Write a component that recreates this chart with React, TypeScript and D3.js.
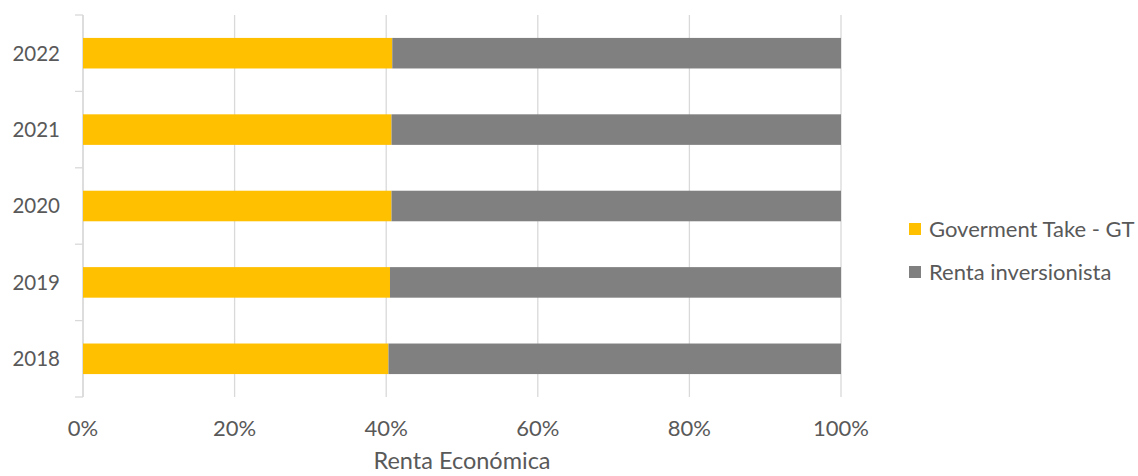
import React from "react";
import * as d3 from "d3";

const years = ["2022", "2021", "2020", "2019", "2018"];
const govTake = [40.8, 40.7, 40.7, 40.5, 40.3];
const rentaInv = govTake.map((v) => 100 - v);
const xTicks = [0, 20, 40, 60, 80, 100];
const seriesNames = ["Goverment Take - GT", "Renta inversionista"];
const colors = ["#FFC000", "#808080"];

const W = 1138;
const H = 476;
const left = 83;
const right = 841;
const top = 15;
const bottom = 397;
const font = "Lato, 'Open Sans', sans-serif";
const textColor = "#595959";

export default function App() {
  const x = d3.scaleLinear().domain([0, 100]).range([left, right]);
  const y = d3.scaleBand().domain(years).range([top, bottom]).paddingInner(0.6).paddingOuter(0.3);
  const boundaries = d3.range(years.length + 1).map((i) => top + i * ((bottom - top) / years.length));

  return (
    <svg width={W} height={H} style={{ position: "absolute", left: 0, top: 0, background: "#fff" }}>
      {xTicks.map((t) => (
        <line key={"g" + t} x1={x(t)} x2={x(t)} y1={top} y2={bottom} stroke="#d9d9d9" strokeWidth={1.3} />
      ))}
      <line x1={left} x2={left} y1={top} y2={bottom} stroke="#d9d9d9" strokeWidth={1.3} />
      {boundaries.map((b, i) => (
        <line key={"t" + i} x1={left - 8} x2={left} y1={b} y2={b} stroke="#d9d9d9" strokeWidth={1.3} />
      ))}
      {years.map((yr, i) => {
        const yy = y(yr) as number;
        const h = y.bandwidth();
        return (
          <g key={yr}>
            <rect x={x(0)} y={yy} width={x(govTake[i]) - x(0)} height={h} fill={colors[0]} />
            <rect x={x(govTake[i])} y={yy} width={x(govTake[i] + rentaInv[i]) - x(govTake[i])} height={h} fill={colors[1]} />
            <text x={60} y={yy + h / 2} dy="0.36em" textAnchor="end" fontFamily={font} fontSize={20.5} fill={textColor}>
              {yr}
            </text>
          </g>
        );
      })}
      {xTicks.map((t) => (
        <text key={"l" + t} x={x(t)} y={428} dy="0.36em" textAnchor="middle" fontFamily={font} fontSize={22} fill={textColor}>
          {t}%
        </text>
      ))}
      <text x={462} y={461} dy="0.36em" textAnchor="middle" fontFamily={font} fontSize={23.5} fill={textColor}>
        Renta Económica
      </text>
      {seriesNames.map((s, i) => (
        <g key={s} transform={`translate(909, ${223 + i * 43})`}>
          <rect x={0} y={0} width={12} height={12} fill={colors[i]} />
          <text x={20} y={6} dy="0.36em" fontFamily={font} fontSize={22} fill={textColor}>
            {s}
          </text>
        </g>
      ))}
    </svg>
  );
}
